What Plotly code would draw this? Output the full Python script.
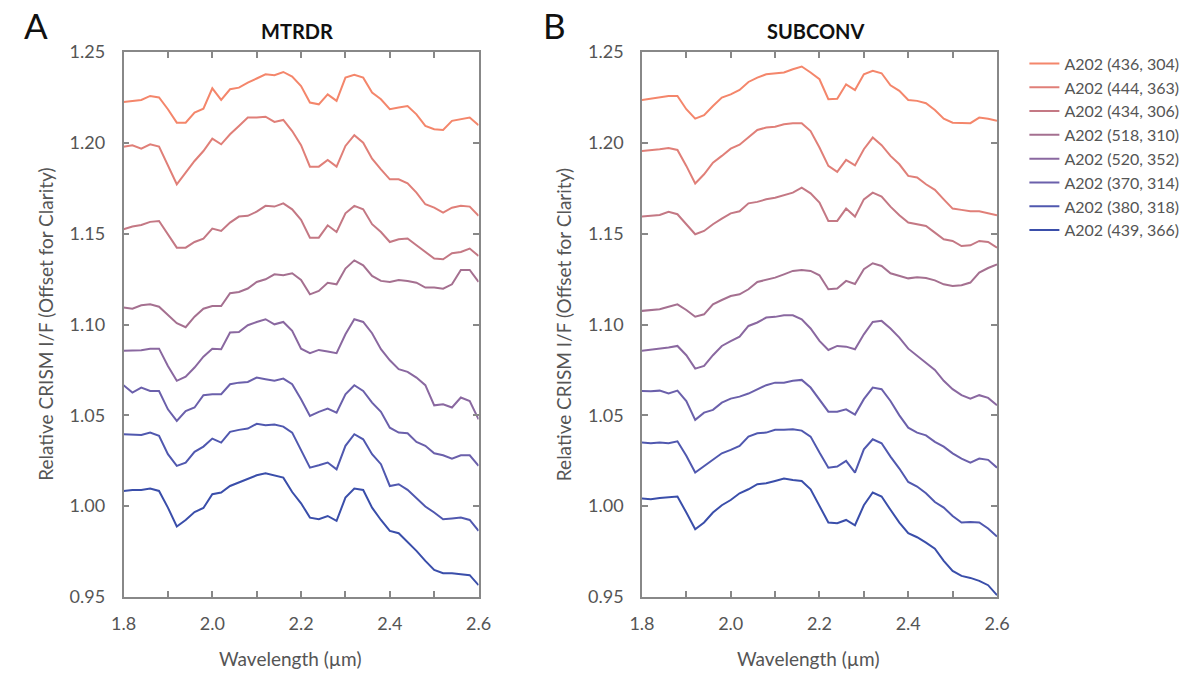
import plotly.graph_objects as go
from plotly.subplots import make_subplots

wavelength = [1.80, 1.82, 1.84, 1.86, 1.88, 1.90, 1.92, 1.94, 1.96, 1.98,
              2.00, 2.02, 2.04, 2.06, 2.08, 2.10, 2.12, 2.14, 2.16, 2.18,
              2.20, 2.22, 2.24, 2.26, 2.28, 2.30, 2.32, 2.34, 2.36, 2.38,
              2.40, 2.42, 2.44, 2.46, 2.48, 2.50, 2.52, 2.54, 2.56, 2.58, 2.60]

labels = ['A202 (436, 304)', 'A202 (444, 363)', 'A202 (434, 306)', 'A202 (518, 310)',
          'A202 (520, 352)', 'A202 (370, 314)', 'A202 (380, 318)', 'A202 (439, 366)']

colors = ['#F4866B', '#E07F78', '#C47884', '#A57090',
          '#8A68A0', '#6B60AB', '#5058AF', '#3A4EAA']

# MTRDR spectra (panel A)
mtrdr_1 = [1.2225, 1.2231, 1.2236, 1.2258, 1.2250, 1.2185, 1.2111, 1.2111, 1.2166, 1.2188,
           1.2300, 1.2236, 1.2295, 1.2304, 1.2332, 1.2354, 1.2377, 1.2372, 1.2390, 1.2365,
           1.2313, 1.2222, 1.2212, 1.2267, 1.2231, 1.2359, 1.2374, 1.2359, 1.2277, 1.2240,
           1.2185, 1.2194, 1.2203, 1.2157, 1.2093, 1.2075, 1.2071, 1.2121, 1.2130, 1.2139, 1.2097]
mtrdr_2 = [1.1979, 1.1987, 1.1968, 1.1992, 1.1979, 1.1873, 1.1772, 1.1836, 1.1900, 1.1955,
           1.2023, 1.1992, 1.2047, 1.2093, 1.2139, 1.2139, 1.2144, 1.2115, 1.2126, 1.2065,
           1.1987, 1.1869, 1.1869, 1.1906, 1.1869, 1.1983, 1.2042, 1.2001, 1.1913, 1.1854,
           1.1799, 1.1799, 1.1777, 1.1726, 1.1662, 1.1643, 1.1616, 1.1643, 1.1653, 1.1649, 1.1598]
mtrdr_3 = [1.1524, 1.1539, 1.1548, 1.1565, 1.1570, 1.1497, 1.1423, 1.1423, 1.1454, 1.1473,
           1.1528, 1.1515, 1.1561, 1.1594, 1.1598, 1.1621, 1.1653, 1.1649, 1.1667, 1.1634,
           1.1576, 1.1478, 1.1478, 1.1546, 1.1509, 1.1612, 1.1653, 1.1634, 1.1552, 1.1509,
           1.1454, 1.1469, 1.1473, 1.1436, 1.1399, 1.1363, 1.1359, 1.1392, 1.1399, 1.1418, 1.1377]
mtrdr_4 = [1.1093, 1.1087, 1.1106, 1.1111, 1.1098, 1.1051, 1.1007, 1.0985, 1.1043, 1.1087,
           1.1102, 1.1102, 1.1172, 1.1179, 1.1198, 1.1234, 1.1249, 1.1276, 1.1271, 1.1282,
           1.1245, 1.1166, 1.1185, 1.1230, 1.1221, 1.1308, 1.1353, 1.1326, 1.1267, 1.1240,
           1.1234, 1.1245, 1.1240, 1.1230, 1.1203, 1.1203, 1.1197, 1.1221, 1.1300, 1.1300, 1.1234]
mtrdr_5 = [1.0855, 1.0855, 1.0858, 1.0867, 1.0867, 1.0772, 1.0690, 1.0713, 1.0763, 1.0823,
           1.0867, 1.0864, 1.0956, 1.0959, 1.0996, 1.1014, 1.1029, 1.1001, 1.1014, 1.0965,
           1.0867, 1.0842, 1.0860, 1.0851, 1.0842, 1.0946, 1.1029, 1.1014, 1.0952, 1.0864,
           1.0803, 1.0754, 1.0739, 1.0708, 1.0666, 1.0555, 1.0561, 1.0543, 1.0598, 1.0579, 1.0478]
mtrdr_6 = [1.0666, 1.0625, 1.0653, 1.0634, 1.0634, 1.0533, 1.0469, 1.0524, 1.0543, 1.0611,
           1.0616, 1.0616, 1.0671, 1.0680, 1.0684, 1.0708, 1.0699, 1.0690, 1.0702, 1.0671,
           1.0589, 1.0497, 1.0519, 1.0537, 1.0515, 1.0616, 1.0666, 1.0634, 1.0570, 1.0519,
           1.0432, 1.0405, 1.0401, 1.0354, 1.0332, 1.0291, 1.0280, 1.0262, 1.0280, 1.0280, 1.0222]
mtrdr_7 = [1.0396, 1.0394, 1.0392, 1.0405, 1.0387, 1.0286, 1.0222, 1.0240, 1.0299, 1.0328,
           1.0372, 1.0350, 1.0409, 1.0420, 1.0427, 1.0453, 1.0445, 1.0449, 1.0438, 1.0405,
           1.0304, 1.0212, 1.0225, 1.0240, 1.0203, 1.0332, 1.0396, 1.0368, 1.0286, 1.0231,
           1.0111, 1.0121, 1.0090, 1.0042, 0.9998, 0.9965, 0.9928, 0.9932, 0.9937, 0.9924, 0.9864]
mtrdr_8 = [1.0084, 1.0089, 1.0089, 1.0097, 1.0084, 0.9992, 0.9888, 0.9924, 0.9968, 0.9990,
           1.0066, 1.0075, 1.0111, 1.0130, 1.0148, 1.0170, 1.0181, 1.0170, 1.0157, 1.0078,
           1.0016, 0.9937, 0.9928, 0.9946, 0.9919, 1.0047, 1.0097, 1.0089, 0.9992, 0.9924,
           0.9864, 0.9851, 0.9803, 0.9754, 0.9699, 0.9649, 0.9631, 0.9631, 0.9625, 0.9620, 0.9565]

# SUBCONV spectra (panel B)
subconv_1 = [1.2236, 1.2243, 1.2249, 1.2258, 1.2258, 1.2185, 1.2133, 1.2152, 1.2203, 1.2249,
             1.2267, 1.2291, 1.2335, 1.2359, 1.2377, 1.2383, 1.2387, 1.2405, 1.2420, 1.2387,
             1.2350, 1.2240, 1.2243, 1.2322, 1.2291, 1.2377, 1.2396, 1.2383, 1.2317, 1.2286,
             1.2236, 1.2231, 1.2218, 1.2181, 1.2133, 1.2111, 1.2111, 1.2108, 1.2139, 1.2133, 1.2121]
subconv_2 = [1.1955, 1.1959, 1.1965, 1.1972, 1.1961, 1.1873, 1.1776, 1.1827, 1.1891, 1.1928,
             1.1968, 1.1990, 1.2029, 1.2071, 1.2084, 1.2089, 1.2102, 1.2108, 1.2108, 1.2065,
             1.1974, 1.1873, 1.1840, 1.1906, 1.1876, 1.1965, 1.2029, 1.1987, 1.1928, 1.1882,
             1.1818, 1.1809, 1.1772, 1.1741, 1.1689, 1.1638, 1.1631, 1.1623, 1.1623, 1.1612, 1.1601]
subconv_3 = [1.1594, 1.1598, 1.1603, 1.1620, 1.1607, 1.1552, 1.1497, 1.1515, 1.1552, 1.1583,
             1.1612, 1.1623, 1.1667, 1.1675, 1.1689, 1.1698, 1.1711, 1.1726, 1.1753, 1.1722,
             1.1671, 1.1570, 1.1570, 1.1638, 1.1594, 1.1689, 1.1726, 1.1704, 1.1649, 1.1601,
             1.1561, 1.1553, 1.1542, 1.1506, 1.1469, 1.1460, 1.1432, 1.1436, 1.1460, 1.1454, 1.1423]
subconv_4 = [1.1075, 1.1080, 1.1084, 1.1098, 1.1111, 1.1080, 1.1043, 1.1056, 1.1111, 1.1135,
             1.1157, 1.1166, 1.1194, 1.1234, 1.1245, 1.1258, 1.1276, 1.1295, 1.1300, 1.1295,
             1.1271, 1.1194, 1.1198, 1.1240, 1.1223, 1.1304, 1.1337, 1.1322, 1.1282, 1.1267,
             1.1254, 1.1260, 1.1256, 1.1243, 1.1221, 1.1212, 1.1216, 1.1231, 1.1286, 1.1311, 1.1331]
subconv_5 = [1.0855, 1.0860, 1.0864, 1.0873, 1.0882, 1.0831, 1.0757, 1.0772, 1.0831, 1.0882,
             1.0908, 1.0933, 1.0992, 1.1011, 1.1038, 1.1042, 1.1051, 1.1051, 1.1029, 1.0978,
             1.0910, 1.0860, 1.0882, 1.0878, 1.0864, 1.0946, 1.1014, 1.1020, 1.0978, 1.0928,
             1.0867, 1.0827, 1.0790, 1.0750, 1.0690, 1.0644, 1.0611, 1.0592, 1.0611, 1.0596, 1.0555]
subconv_6 = [1.0634, 1.0632, 1.0636, 1.0621, 1.0636, 1.0579, 1.0475, 1.0515, 1.0530, 1.0570,
             1.0592, 1.0603, 1.0620, 1.0644, 1.0666, 1.0680, 1.0680, 1.0690, 1.0695, 1.0653,
             1.0589, 1.0520, 1.0520, 1.0533, 1.0504, 1.0589, 1.0653, 1.0644, 1.0579, 1.0500,
             1.0432, 1.0405, 1.0390, 1.0354, 1.0328, 1.0291, 1.0262, 1.0240, 1.0262, 1.0255, 1.0212]
subconv_7 = [1.0350, 1.0346, 1.0350, 1.0346, 1.0357, 1.0277, 1.0185, 1.0222, 1.0258, 1.0291,
             1.0310, 1.0332, 1.0383, 1.0401, 1.0405, 1.0420, 1.0420, 1.0423, 1.0416, 1.0383,
             1.0295, 1.0212, 1.0218, 1.0249, 1.0185, 1.0313, 1.0368, 1.0346, 1.0273, 1.0207,
             1.0133, 1.0108, 1.0071, 1.0023, 0.9992, 0.9946, 0.9910, 0.9913, 0.9910, 0.9877, 0.9833]
subconv_8 = [1.0042, 1.0038, 1.0045, 1.0047, 1.0053, 0.9965, 0.9873, 0.9910, 0.9965, 1.0005,
             1.0034, 1.0071, 1.0093, 1.0121, 1.0126, 1.0139, 1.0152, 1.0144, 1.0139, 1.0093,
             1.0000, 0.9910, 0.9906, 0.9924, 0.9895, 1.0005, 1.0075, 1.0053, 0.9980, 0.9910,
             0.9851, 0.9829, 0.9799, 0.9766, 0.9699, 0.9644, 0.9616, 0.9605, 0.9589, 0.9565, 0.9510]

mtrdr = [mtrdr_1, mtrdr_2, mtrdr_3, mtrdr_4, mtrdr_5, mtrdr_6, mtrdr_7, mtrdr_8]
subconv = [subconv_1, subconv_2, subconv_3, subconv_4, subconv_5, subconv_6, subconv_7, subconv_8]

FONT = 'Lato'
W, H = 1189, 673
PH = 545  # plot area height in px

fig = make_subplots(rows=1, cols=2)

for i in range(8):
    fig.add_trace(go.Scatter(x=wavelength, y=mtrdr[i], mode='lines', name=labels[i],
                             line=dict(color=colors[i], width=2), showlegend=True), row=1, col=1)
    fig.add_trace(go.Scatter(x=wavelength, y=subconv[i], mode='lines', name=labels[i],
                             line=dict(color=colors[i], width=2), showlegend=False), row=1, col=2)

xticks = [1.8, 1.9, 2.0, 2.1, 2.2, 2.3, 2.4, 2.5, 2.6]
xtext = ['1.8', '', '2.0', '', '2.2', '', '2.4', '', '2.6']
yticks = [0.95, 1.00, 1.05, 1.10, 1.15, 1.20, 1.25]

axis_style = dict(showline=True, linecolor='#888888', linewidth=1.5, mirror='ticks',
                  ticks='inside', ticklen=6, tickcolor='#888888', tickwidth=1.5,
                  showgrid=False, zeroline=False,
                  tickfont=dict(family=FONT, size=18, color='#555555'))

fig.update_xaxes(range=[1.8, 2.6], tickvals=xticks, ticktext=xtext, ticklabelstandoff=10, **axis_style)
fig.update_yaxes(range=[0.95, 1.25], tickvals=yticks, tickformat='.2f', ticklabelstandoff=13, **axis_style)
fig.update_layout(xaxis=dict(domain=[113 / W, 476 / W]), xaxis2=dict(domain=[643 / W, 1006 / W]))

ann = []
for cx, letter, title in [(113, 'A', 'MTRDR'), (643, 'B', 'SUBCONV')]:
    ann.append(dict(x=(cx + 177) / W, y=1 + 21 / PH, xref='paper', yref='paper', text='<b>' + title + '</b>',
                    showarrow=False, font=dict(family=FONT, size=20, color='#111111'),
                    xanchor='center', yanchor='middle'))
    ann.append(dict(x=(cx - 89) / W, y=1 + 27 / PH, xref='paper', yref='paper', text=letter,
                    showarrow=False, font=dict(family=FONT, size=35, color='#111111'),
                    xanchor='center', yanchor='middle'))
    ann.append(dict(x=(cx + 170) / W, y=-61 / PH, xref='paper', yref='paper', text='Wavelength (µm)',
                    showarrow=False, font=dict(family=FONT, size=19, color='#555555'),
                    xanchor='center', yanchor='middle'))
    ann.append(dict(x=(cx - 80) / W, y=0.5, xref='paper', yref='paper',
                    text='Relative CRISM I/F (Offset for Clarity)', textangle=-90,
                    showarrow=False, font=dict(family=FONT, size=19, color='#555555'),
                    xanchor='center', yanchor='middle'))

fig.update_layout(
    width=W, height=H,
    margin=dict(l=0, r=0, t=52, b=76),
    plot_bgcolor='white', paper_bgcolor='white',
    annotations=ann,
    legend=dict(x=1034 / W, y=1.01, xanchor='left', yanchor='top',
                font=dict(family=FONT, size=16, color='#555555'),
                bgcolor='rgba(0,0,0,0)', itemwidth=30),
    font=dict(family=FONT),
)

fig.write_html("out.html", config={'displayModeBar': False},
               post_script="document.body.style.margin='0';")
